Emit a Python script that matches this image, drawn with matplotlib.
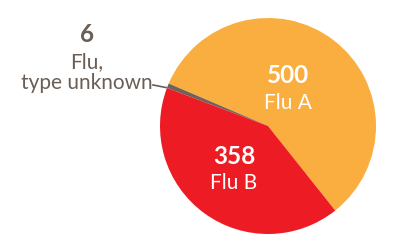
import matplotlib
matplotlib.use("Agg")
import matplotlib.pyplot as plt

labels = ["Flu A", "Flu,\ntype unknown", "Flu B"]
counts = [500, 6, 358]
colors = ["#FBAE40", "#6E625A", "#ED1C24"]
text_color = "#6B5E55"

plt.rcParams['font.family'] = ['Lato', 'DejaVu Sans']

fig = plt.figure(figsize=(4, 2.5), dpi=100)
# pie centre at (268, 126) px, radius 108 px
ax = fig.add_axes([160 / 400, 16 / 250, 216 / 400, 216 / 250])
ax.pie(counts, colors=colors, startangle=-51.5, counterclock=True,
       radius=1, wedgeprops={'linewidth': 0})
ax.set_xlim(-1, 1)
ax.set_ylim(-1, 1)
ax.set_aspect('equal')
ax.axis('off')

num_size = 17.5
lab_size = 15

# labels inside the slices
ax.text(0.181, 0.398, str(counts[0]), color='white', fontsize=num_size, fontweight='bold',
        ha='center', va='baseline')
ax.text(0.181, 0.157, labels[0], color='white', fontsize=lab_size, ha='center', va='baseline')
ax.text(-0.315, -0.352, str(counts[2]), color='white', fontsize=num_size, fontweight='bold',
        ha='center', va='baseline')
ax.text(-0.315, -0.583, labels[2], color='white', fontsize=lab_size, ha='center', va='baseline')

# outside label for the small slice
first, second = labels[1].split("\n")
ax.text(-1.676, 0.781, str(counts[1]), color=text_color, fontsize=num_size, fontweight='bold',
        ha='center', va='baseline')
ax.text(-1.676, 0.537, first, color=text_color, fontsize=lab_size, ha='center', va='baseline')
ax.text(-1.676, 0.343, second, color=text_color, fontsize=lab_size, ha='center', va='baseline')
ax.plot([-1.065, -0.944], [0.380, 0.356], color=text_color, linewidth=1.2, clip_on=False)

fig.savefig("out.png", dpi=100)
